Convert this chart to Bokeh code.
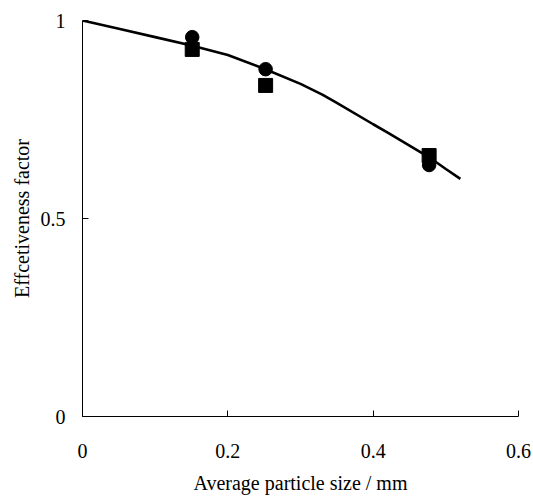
from bokeh.plotting import figure
from bokeh.models import FixedTicker, Range1d
from bokeh.embed import file_html
from bokeh.resources import INLINE

# Data
curve_x = [0.0, 0.05, 0.10, 0.15, 0.20, 0.25, 0.30, 0.33, 0.35, 0.40, 0.42, 0.45, 0.48, 0.50, 0.52]
curve_y = [1.0, 0.979, 0.958, 0.937, 0.913, 0.878, 0.840, 0.813, 0.792, 0.738, 0.717, 0.684, 0.651, 0.625, 0.600]

circle_x = [0.151, 0.252, 0.477]
circle_y = [0.958, 0.877, 0.635]

square_x = [0.151, 0.252, 0.477]
square_y = [0.927, 0.836, 0.659]

x_ticks = [0, 0.2, 0.4, 0.6]
x_tick_labels = ["0", "0.2", "0.4", "0.6"]
y_ticks = [0, 0.5, 1]
y_tick_labels = ["0", "0.5", "1"]

x_label = "Average particle size / mm"
y_label = "Effcetiveness factor"

FONT = "Liberation Serif"

p = figure(width=533, height=498, output_backend="svg", toolbar_location=None,
           x_range=Range1d(0, 0.6), y_range=Range1d(0, 1),
           min_border_left=82, min_border_right=15, min_border_top=20, min_border_bottom=82)
p.outline_line_color = None
p.xgrid.visible = False
p.ygrid.visible = False
p.background_fill_color = "white"
p.border_fill_color = "white"

p.line(curve_x, curve_y, line_color="black", line_width=2.6)
p.scatter(square_x, square_y, marker="square", size=14, fill_color="black", line_color="black")
p.scatter(circle_x, circle_y, marker="circle", size=13.5, fill_color="black", line_color="black")

for ax, ticks, labels in ((p.xaxis[0], x_ticks, x_tick_labels), (p.yaxis[0], y_ticks, y_tick_labels)):
    ax.ticker = FixedTicker(ticks=ticks)
    ax.major_label_overrides = {t: l for t, l in zip(ticks, labels)}
    ax.minor_tick_line_color = None
    ax.major_tick_in = 6
    ax.major_tick_out = 0
    ax.axis_line_color = "black"
    ax.axis_line_width = 1
    ax.major_tick_line_color = "black"
    ax.major_label_text_font = FONT
    ax.major_label_text_font_size = "20px"
    ax.major_label_text_color = "black"
    ax.axis_label_text_font = FONT
    ax.axis_label_text_font_size = "20px"
    ax.axis_label_text_font_style = "normal"
    ax.axis_label_text_color = "black"

p.xaxis[0].axis_label = x_label
p.yaxis[0].axis_label = y_label
p.xaxis[0].major_label_standoff = 27
p.xaxis[0].axis_label_standoff = 11
p.yaxis[0].major_label_standoff = 17
p.yaxis[0].axis_label_standoff = 5

open("out.html", "w").write(file_html(p, INLINE))
